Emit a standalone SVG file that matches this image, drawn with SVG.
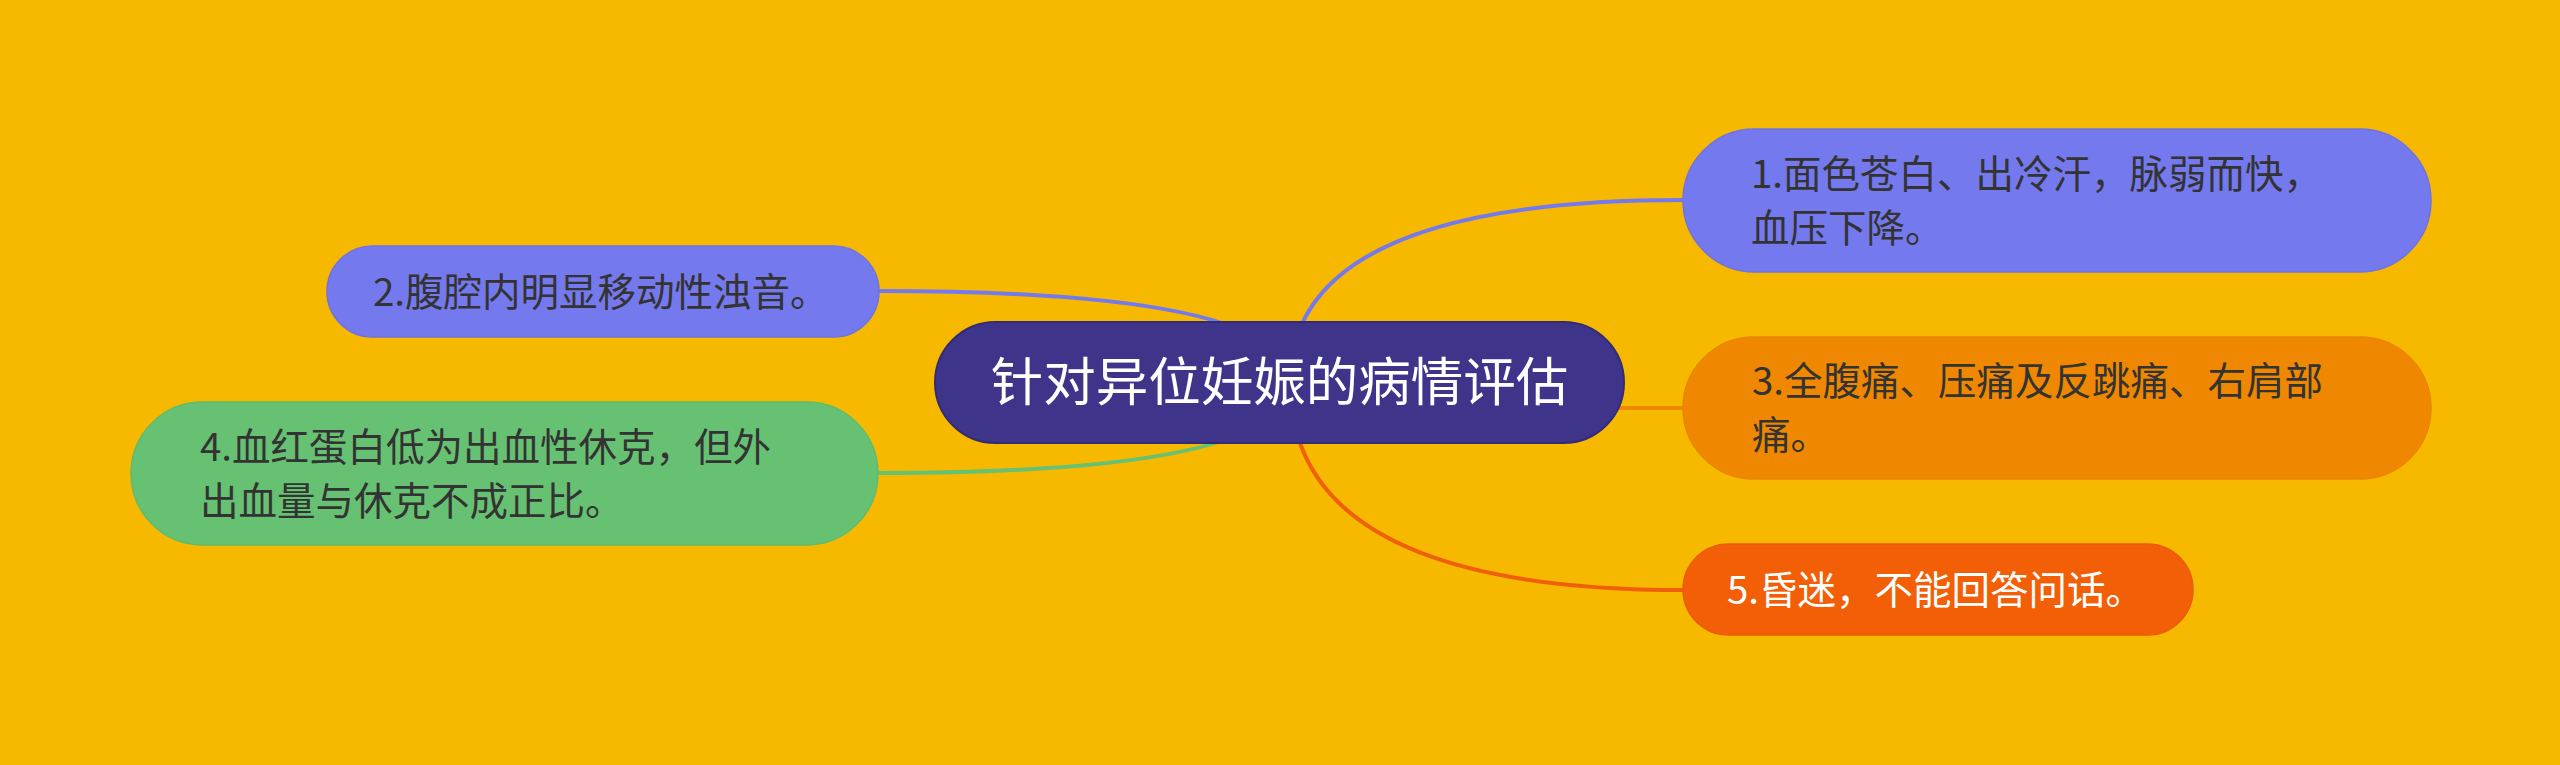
<svg xmlns="http://www.w3.org/2000/svg" width="2560" height="765" viewBox="0 0 2560 765">
<style>
.bg{fill:#F6B900}
.link{fill:none;stroke-width:4;stroke-linecap:round}
.t{font-family:"Noto Sans CJK SC","Noto Sans",sans-serif;font-size:38.5px;fill:#333333}
.tw{fill:#FFFFFF}
.root{font-family:"Noto Sans CJK SC","Noto Sans",sans-serif;font-size:52.5px;fill:#FFFFFF}
</style>
<rect class="bg" x="0" y="0" width="2560" height="765"/>
<g id="connectors">
<path class="link" stroke="#7579EE" d="M1290,382 Q1290,200 1683,200"/>
<path class="link" stroke="#EE8800" d="M1290,382 Q1290,408 1683,408"/>
<path class="link" stroke="#F0600A" d="M1290,382 Q1290,590 1683,590"/>
<path class="link" stroke="#7579EE" d="M1290,382 Q1290,291 879,291"/>
<path class="link" stroke="#66C172" d="M1290,382 Q1290,473 879,473"/>
</g>
<g id="root">
<rect x="935" y="322" width="689" height="121" rx="60.5" fill="#3E358B" stroke="#332C75" stroke-width="2"/>
<text class="root" x="1279.5" y="401" text-anchor="middle">针对异位妊娠的病情评估</text>
</g>
<g id="n1">
<rect x="1683" y="129" width="748" height="143" rx="71.5" fill="#7579EE" stroke="#6E72E2" stroke-width="1.5"/>
<text class="t" x="1751" y="188">1.面色苍白、出冷汗，脉弱而快，</text>
<text class="t" x="1751" y="242">血压下降。</text>
</g>
<g id="n3">
<rect x="1683" y="337" width="748" height="142" rx="71" fill="#EF8800" stroke="#EA8600" stroke-width="1.5"/>
<text class="t" x="1752" y="395">3.全腹痛、压痛及反跳痛、右肩部</text>
<text class="t" x="1752" y="449">痛。</text>
</g>
<g id="n5">
<rect x="1683" y="544" width="510" height="91" rx="45.5" fill="#F25F06" stroke="#EC5C06" stroke-width="1.5"/>
<text class="t tw" x="1727" y="604">5.昏迷，不能回答问话。</text>
</g>
<g id="n2">
<rect x="327" y="246" width="552" height="91" rx="45.5" fill="#7579EE" stroke="#6E72E2" stroke-width="1.5"/>
<text class="t" x="373" y="306">2.腹腔内明显移动性浊音。</text>
</g>
<g id="n4">
<rect x="131" y="402" width="747" height="143" rx="71.5" fill="#66C172" stroke="#60BB6C" stroke-width="1.5"/>
<text class="t" x="200" y="461">4.血红蛋白低为出血性休克，但外</text>
<text class="t" x="200" y="515">出血量与休克不成正比。</text>
</g>
</svg>
